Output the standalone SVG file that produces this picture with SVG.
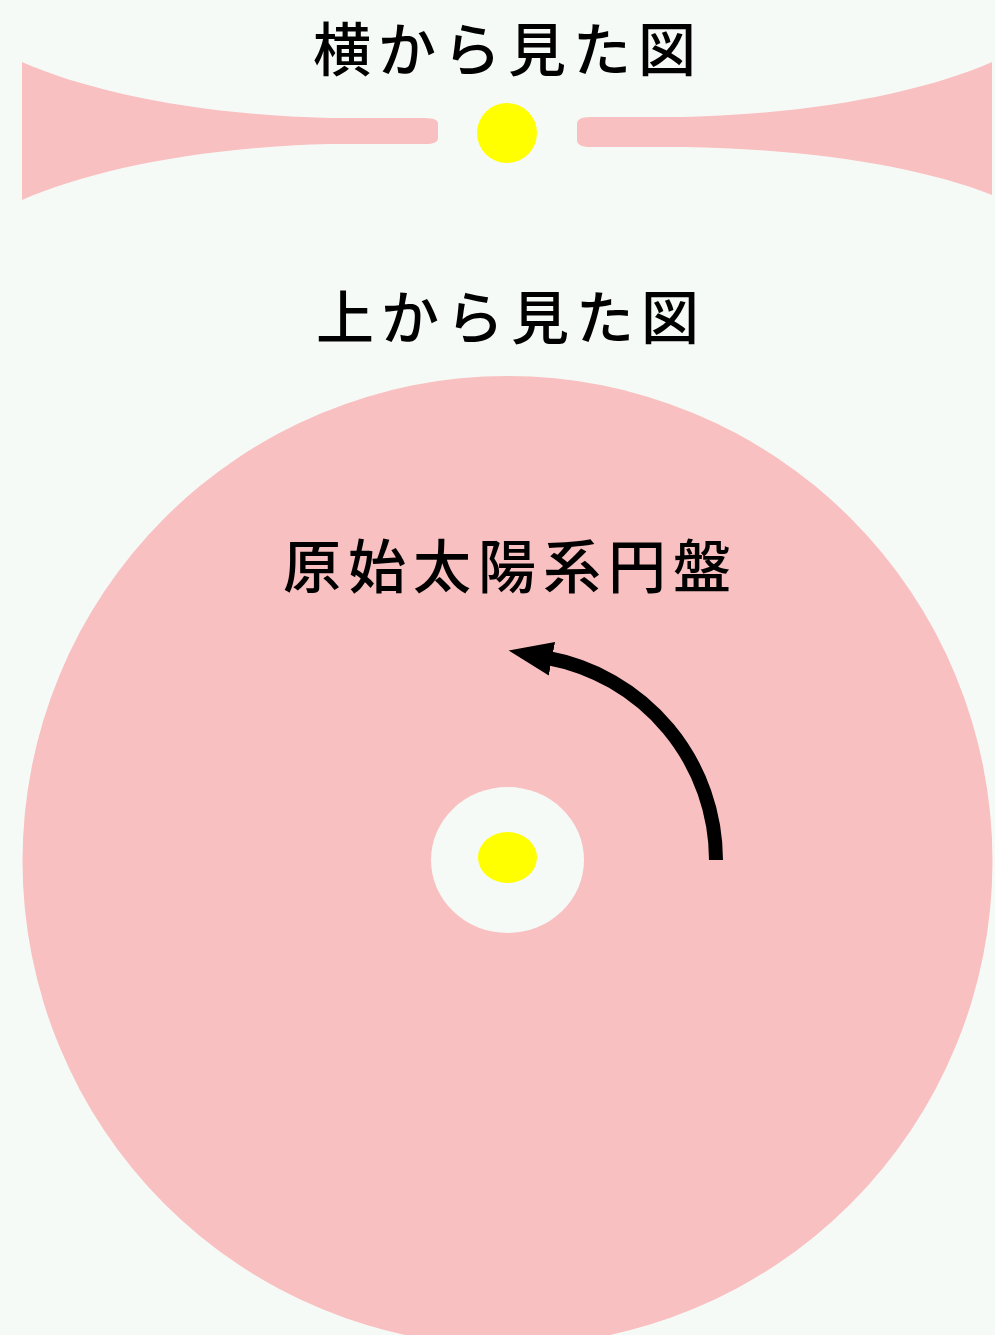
<svg xmlns="http://www.w3.org/2000/svg" width="995" height="1335" viewBox="0 0 995 1335">
  <style>
    .label { font-family: "Noto Sans CJK JP", "Noto Sans CJK SC", sans-serif; font-size: 58px; font-weight: 500; letter-spacing: 7px; fill: #000; }
    .disk { fill: #F8C0C0; }
    .sun { fill: #FFFF00; }
    .gap { fill: #F6FAF7; }
  </style>
  <defs>
    <marker id="head" markerUnits="userSpaceOnUse" markerWidth="46" markerHeight="40" refX="4" refY="20" orient="auto">
      <path d="M0,3 L44,20 L0,37 Z" fill="#000"/>
    </marker>
  </defs>

  <!-- background -->
  <rect width="995" height="1335" fill="#F6FAF7"/>

  <!-- side view -->
  <g id="side-view">
    <text class="label" x="313" y="71">横から見た図</text>
    <path class="disk" d="M22,62 C90,92 200,115 330,118 L425,118 Q438,118 438,124 L438,138 Q438,144 425,144 L330,144 C200,147 90,170 22,200 Z"/>
    <path class="disk" d="M992,62 C924,92 814,114 684,117 L590,117 Q577,117 577,124 L577,140 Q577,147 590,147 L684,147 C814,149 924,168 992,195 Z"/>
    <circle class="sun" cx="507" cy="133" r="30"/>
  </g>

  <!-- top view -->
  <g id="top-view">
    <text class="label" x="316" y="339">上から見た図</text>
    <circle class="disk" cx="507.5" cy="861" r="485"/>
    <ellipse class="gap" cx="507.5" cy="860" rx="76.5" ry="73"/>
    <ellipse class="sun" cx="507.5" cy="857.5" rx="29.5" ry="25.5"/>
    <text class="label" x="283" y="588">原始太陽系円盤</text>
  </g>

  <!-- rotation direction -->
  <g id="connectors">
    <path d="M716,860 A206,206 0 0 0 548,658" fill="none" stroke="#000" stroke-width="14" marker-end="url(#head)"/>
  </g>
</svg>
